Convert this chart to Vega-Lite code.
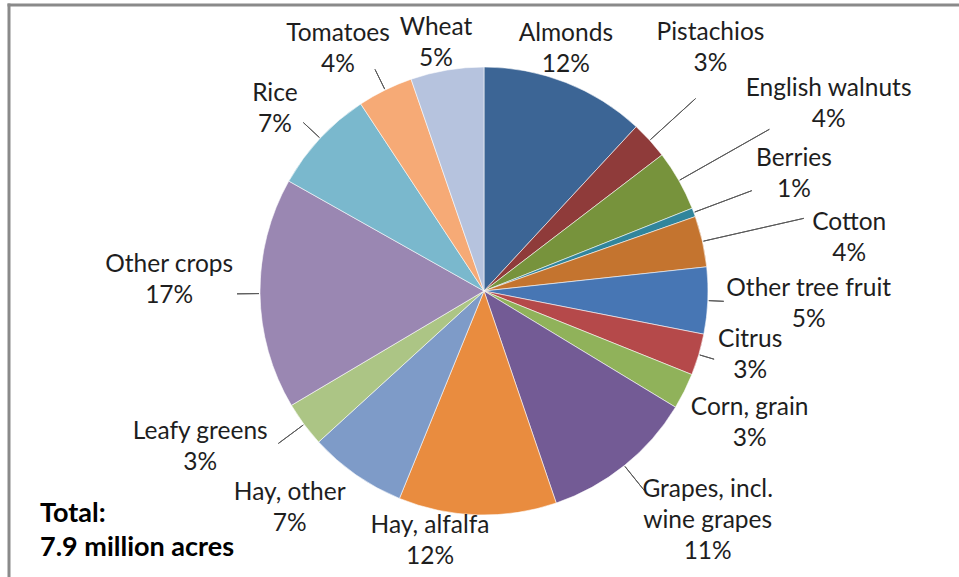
{
  "$schema": "https://vega.github.io/schema/vega-lite/v6.json",
  "width": 950,
  "height": 572,
  "autosize": {"type": "none"},
  "padding": {"left": 9, "top": 5, "right": 0, "bottom": 0},
  "background": "white",
  "config": {
    "view": {"stroke": null},
    "text": {"font": "Lato", "fontSize": 24.5, "lineHeight": 31, "lineBreak": "\n", "align": "center", "baseline": "middle", "fill": "#1e1e1e", "dy": -15.5}
  },
  "title": {
    "text": ["Total:", "7.9 million acres"],
    "orient": "bottom", "anchor": "start", "frame": "group",
    "offset": -78, "dx": 31,
    "font": "Lato", "fontSize": 27, "fontWeight": "bold", "color": "#000000", "lineHeight": 34
  },
  "data": {
    "values": [
      {"idx": 1, "crop": "Almonds", "label": "Almonds\n12%", "acres": 940},
      {"idx": 2, "crop": "Pistachios", "label": "Pistachios\n3%", "acres": 215},
      {"idx": 3, "crop": "English walnuts", "label": "English walnuts\n4%", "acres": 345},
      {"idx": 4, "crop": "Berries", "label": "Berries\n1%", "acres": 50},
      {"idx": 5, "crop": "Cotton", "label": "Cotton\n4%", "acres": 290},
      {"idx": 6, "crop": "Other tree fruit", "label": "Other tree fruit\n5%", "acres": 380},
      {"idx": 7, "crop": "Citrus", "label": "Citrus\n3%", "acres": 237},
      {"idx": 8, "crop": "Corn, grain", "label": "Corn, grain\n3%", "acres": 205},
      {"idx": 9, "crop": "Grapes", "label": "Grapes, incl.\nwine grapes\n11%", "acres": 877},
      {"idx": 10, "crop": "Hay, alfalfa", "label": "Hay, alfalfa\n12%", "acres": 900},
      {"idx": 11, "crop": "Hay, other", "label": "Hay, other\n7%", "acres": 558},
      {"idx": 12, "crop": "Leafy greens", "label": "Leafy greens\n3%", "acres": 257},
      {"idx": 13, "crop": "Other crops", "label": "Other crops\n17%", "acres": 1319},
      {"idx": 14, "crop": "Rice", "label": "Rice\n7%", "acres": 598},
      {"idx": 15, "crop": "Tomatoes", "label": "Tomatoes\n4%", "acres": 316},
      {"idx": 16, "crop": "Wheat", "label": "Wheat\n5%", "acres": 417}
    ]
  },
  "encoding": {
    "theta": {"field": "acres", "type": "quantitative", "stack": true},
    "order": {"field": "idx", "type": "quantitative"},
    "detail": {"field": "crop", "type": "nominal"}
  },
  "layer": [
    {
      "data": {"values": [{}]},
      "mark": {"type": "rule", "stroke": "#8a8a8a", "strokeWidth": 3, "strokeCap": "square"},
      "encoding": {
        "theta": null, "order": null, "detail": null,
        "x": {"value": 0}, "y": {"value": 0}, "y2": {"value": "height"}
      }
    },
    {
      "data": {"values": [{}]},
      "mark": {"type": "rule", "stroke": "#8a8a8a", "strokeWidth": 3, "strokeCap": "square"},
      "encoding": {
        "theta": null, "order": null, "detail": null,
        "x": {"value": 0}, "x2": {"value": "width"}, "y": {"value": 0}
      }
    },
    {
      "mark": {"type": "arc", "outerRadius": 224, "stroke": "#ffffff", "strokeWidth": 0.8, "strokeOpacity": 0.7, "clip": true},
      "encoding": {
        "color": {
          "field": "crop", "type": "nominal", "legend": null,
          "scale": {
            "domain": ["Almonds", "Pistachios", "English walnuts", "Berries", "Cotton", "Other tree fruit", "Citrus", "Corn, grain", "Grapes", "Hay, alfalfa", "Hay, other", "Leafy greens", "Other crops", "Rice", "Tomatoes", "Wheat"],
            "range": ["#3c6595", "#8f3b3a", "#77933c", "#31859c", "#c4742f", "#4776b4", "#b5494a", "#90b25a", "#735b95", "#e98c3f", "#7e9bc8", "#acc585", "#9a87b2", "#7ab8cd", "#f6aa76", "#b6c3de"]
          }
        }
      }
    },
    {
      "mark": {"type": "arc", "outerRadius": 240, "innerRadius": 225, "padAngle": 3.14, "filled": false, "stroke": "#595959", "strokeWidth": 1, "clip": true},
      "encoding": {"strokeOpacity": {"condition": {"test": "indexof(['Other tree fruit','Citrus'], datum.crop) >= 0", "value": 1}, "value": 0}}
    },
    {
      "mark": {"type": "arc", "outerRadius": 247, "innerRadius": 225, "padAngle": 3.14, "filled": false, "stroke": "#595959", "strokeWidth": 1, "clip": true},
      "encoding": {"strokeOpacity": {"condition": {"test": "indexof(['Rice','Tomatoes','Other crops'], datum.crop) >= 0", "value": 1}, "value": 0}}
    },
    {
      "mark": {"type": "arc", "outerRadius": 256, "innerRadius": 225, "padAngle": 3.14, "filled": false, "stroke": "#595959", "strokeWidth": 1, "clip": true},
      "encoding": {"strokeOpacity": {"condition": {"test": "indexof(['Grapes','Leafy greens'], datum.crop) >= 0", "value": 1}, "value": 0}}
    },
    {
      "mark": {"type": "arc", "outerRadius": 286, "innerRadius": 225, "padAngle": 3.14, "filled": false, "stroke": "#595959", "strokeWidth": 1, "clip": true},
      "encoding": {"strokeOpacity": {"condition": {"test": "indexof(['Pistachios','Berries'], datum.crop) >= 0", "value": 1}, "value": 0}}
    },
    {
      "mark": {"type": "arc", "outerRadius": 328, "innerRadius": 225, "padAngle": 3.14, "filled": false, "stroke": "#595959", "strokeWidth": 1, "clip": true},
      "encoding": {"strokeOpacity": {"condition": {"test": "indexof(['Cotton','English walnuts'], datum.crop) >= 0", "value": 1}, "value": 0}}
    },
    {"mark": {"type": "text", "clip": true, "radius": 255, "thetaOffset": -0.047}, "encoding": {"text": {"condition": {"test": "datum.crop === 'Almonds'", "field": "label"}, "value": ""}}},
    {"mark": {"type": "text", "clip": true, "radius": 332, "thetaOffset": -0.082}, "encoding": {"text": {"condition": {"test": "datum.crop === 'Pistachios'", "field": "label"}, "value": ""}}},
    {"mark": {"type": "text", "clip": true, "radius": 392, "thetaOffset": 0.019}, "encoding": {"text": {"condition": {"test": "datum.crop === 'English walnuts'", "field": "label"}, "value": ""}}},
    {"mark": {"type": "text", "clip": true, "radius": 331, "thetaOffset": 0}, "encoding": {"text": {"condition": {"test": "datum.crop === 'Berries'", "field": "label"}, "value": ""}}},
    {"mark": {"type": "text", "clip": true, "radius": 369, "thetaOffset": 0.08}, "encoding": {"text": {"condition": {"test": "datum.crop === 'Cotton'", "field": "label"}, "value": ""}}},
    {"mark": {"type": "text", "clip": true, "radius": 325, "thetaOffset": 0}, "encoding": {"text": {"condition": {"test": "datum.crop === 'Other tree fruit'", "field": "label"}, "value": ""}}},
    {"mark": {"type": "text", "clip": true, "radius": 274, "thetaOffset": -0.049}, "encoding": {"text": {"condition": {"test": "datum.crop === 'Citrus'", "field": "label"}, "value": ""}}},
    {"mark": {"type": "text", "clip": true, "radius": 297, "thetaOffset": 0}, "encoding": {"text": {"condition": {"test": "datum.crop === 'Corn, grain'", "field": "label"}, "value": ""}}},
    {"mark": {"type": "text", "clip": true, "radius": 321, "thetaOffset": -0.094, "dy": -31}, "encoding": {"text": {"condition": {"test": "datum.crop === 'Grapes'", "field": "label"}, "value": ""}}},
    {"mark": {"type": "text", "clip": true, "radius": 256, "thetaOffset": 0.183}, "encoding": {"text": {"condition": {"test": "datum.crop === 'Hay, alfalfa'", "field": "label"}, "value": ""}}},
    {"mark": {"type": "text", "clip": true, "radius": 292, "thetaOffset": 0.119}, "encoding": {"text": {"condition": {"test": "datum.crop === 'Hay, other'", "field": "label"}, "value": ""}}},
    {"mark": {"type": "text", "clip": true, "radius": 324, "thetaOffset": 0.134}, "encoding": {"text": {"condition": {"test": "datum.crop === 'Leafy greens'", "field": "label"}, "value": ""}}},
    {"mark": {"type": "text", "clip": true, "radius": 315, "thetaOffset": 0.044}, "encoding": {"text": {"condition": {"test": "datum.crop === 'Other crops'", "field": "label"}, "value": ""}}},
    {"mark": {"type": "text", "clip": true, "radius": 277, "thetaOffset": -0.035}, "encoding": {"text": {"condition": {"test": "datum.crop === 'Rice'", "field": "label"}, "value": ""}}},
    {"mark": {"type": "text", "clip": true, "radius": 282, "thetaOffset": -0.087}, "encoding": {"text": {"condition": {"test": "datum.crop === 'Tomatoes'", "field": "label"}, "value": ""}}},
    {"mark": {"type": "text", "clip": true, "radius": 252, "thetaOffset": -0.026}, "encoding": {"text": {"condition": {"test": "datum.crop === 'Wheat'", "field": "label"}, "value": ""}}}
  ]
}
